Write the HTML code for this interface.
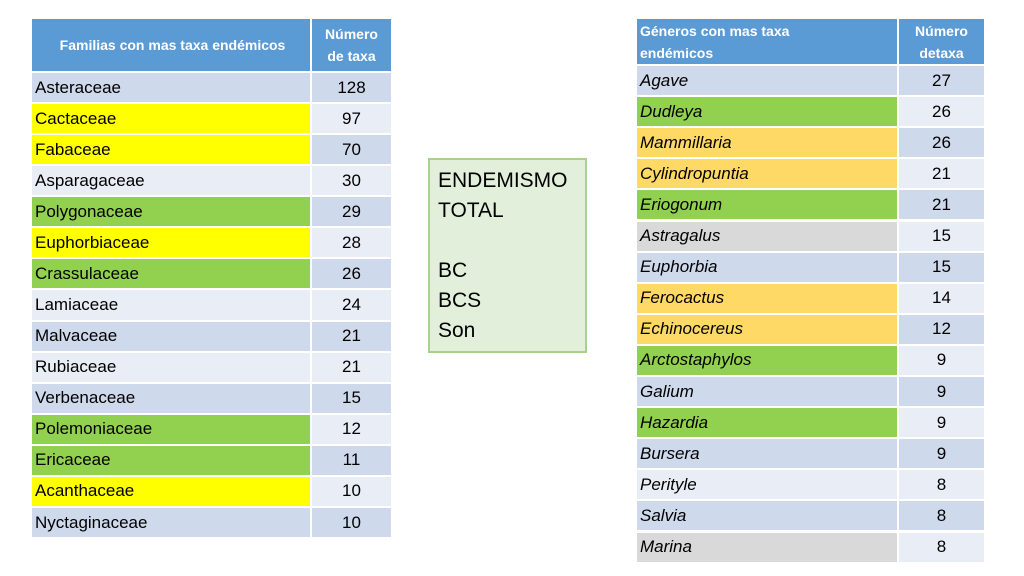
<!DOCTYPE html>
<html><head><meta charset="utf-8">
<style>
body{margin:0;width:1024px;height:576px;background:#fff;position:relative;overflow:hidden;font-family:"Liberation Sans",sans-serif;}
.c{position:absolute;box-sizing:border-box;border:1px solid #fff;display:flex;align-items:center;font-size:17px;color:#000;white-space:nowrap;overflow:hidden}
.h{background:#5B9BD5;color:#fff;font-weight:bold;font-size:14px;line-height:22px;white-space:normal}
.n{padding-left:3px}
.v{justify-content:center}
.d{background:#CFD9EC}.l{background:#E9EEF6}
.y{background:#FFFF00}.g{background:#92D050}.o{background:#FFD966}.gr{background:#D9D9D9}
.i{font-style:italic}
#box{position:absolute;left:428px;top:158px;width:159px;height:195px;box-sizing:border-box;background:#E2EFDA;border:2px solid #A9D18E;font-size:21px;line-height:30px;padding:6px 8px;}
</style></head><body>
<div id="left"></div>
<div id="right"></div>
<div id="box">ENDEMISMO<br>TOTAL<br><br>BC<br>BCS<br>Son</div>
<script>
const famNames=["Asteraceae","Cactaceae","Fabaceae","Asparagaceae","Polygonaceae","Euphorbiaceae","Crassulaceae","Lamiaceae","Malvaceae","Rubiaceae","Verbenaceae","Polemoniaceae","Ericaceae","Acanthaceae","Nyctaginaceae"];
const famValues=[128,97,70,30,29,28,26,24,21,21,15,12,11,10,10];
const famColors=["","y","y","","g","y","g","","","","","g","g","y",""];
const genNames=["Agave","Dudleya","Mammillaria","Cylindropuntia","Eriogonum","Astragalus","Euphorbia","Ferocactus","Echinocereus","Arctostaphylos","Galium","Hazardia","Bursera","Perityle","Salvia","Marina"];
const genValues=[27,26,26,21,21,15,15,14,12,9,9,9,9,8,8,8];
const genColors=["","g","o","o","g","gr","","o","o","g","","g","","","","gr"];
function cell(parent,cls,x,y,w,h,html,name){
  const d=document.createElement('div');
  d.className='c '+cls;
  d.style.left=x+'px';d.style.top=y+'px';d.style.width=w+'px';d.style.height=h+'px';
  d.innerHTML=html;
  
  
  parent.appendChild(d);
}
function table(id,x,y,w1,w2,hh,rh,h1,h2,names,vals,cols,ital){
  const p=document.getElementById(id);
  cell(p,'h n',x,y,w1,hh,h1,'header-name');
  cell(p,'h v',x+w1,y,w2,hh,'<div style="text-align:center">'+h2+'</div>','header-count');
  names.forEach((nm,i)=>{
    const alt=i%2?'l':'d';
    const ry=y+hh+i*rh;
    cell(p,'n '+(cols[i]||alt)+(ital?' i':''),x,ry,w1,rh,nm,'row-name');
    cell(p,'v '+alt,x+w1,ry,w2,rh,String(vals[i]),'row-count');
  });
}
table('left',31,18,280,81,54,31.07,'<div style="width:100%;text-align:center">Familias con mas taxa endémicos</div>','Número<br>de taxa',famNames,famValues,famColors,false);
table('right',636,18,262,87,47,31.1,'Géneros con mas taxa<br>endémicos','Número<br>detaxa',genNames,genValues,genColors,true);
</script>
</body></html>
